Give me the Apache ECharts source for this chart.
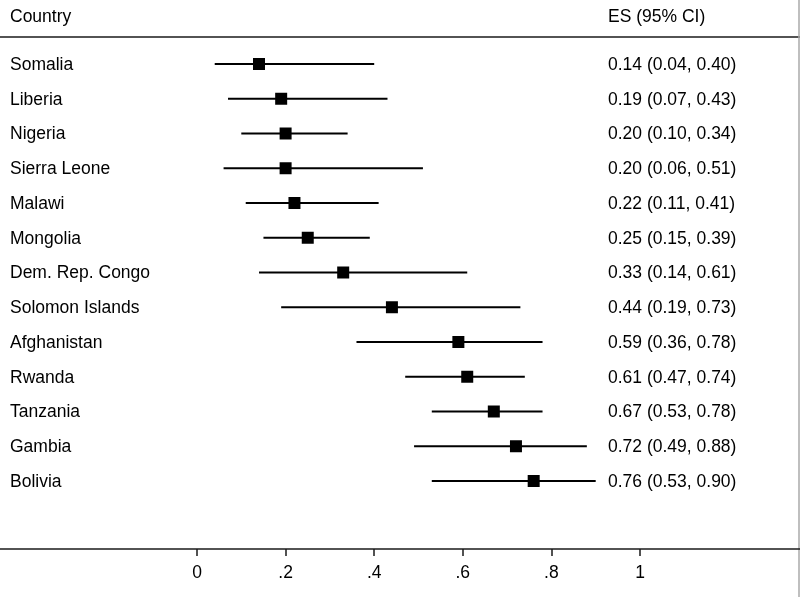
<!DOCTYPE html>
<html>
<head>
<meta charset="utf-8">
<script src="https://cdn.jsdelivr.net/npm/echarts@6/dist/echarts.min.js"></script>
<style>
html,body{margin:0;padding:0;background:#fff;}
#c{width:800px;height:597px;}
</style>
</head>
<body>
<div id="c"></div>
<script>
const countries = ["Somalia","Liberia","Nigeria","Sierra Leone","Malawi","Mongolia","Dem. Rep. Congo","Solomon Islands","Afghanistan","Rwanda","Tanzania","Gambia","Bolivia"];
const es = [0.14,0.19,0.20,0.20,0.22,0.25,0.33,0.44,0.59,0.61,0.67,0.72,0.76];
const lo = [0.04,0.07,0.10,0.06,0.11,0.15,0.14,0.19,0.36,0.47,0.53,0.49,0.53];
const hi = [0.40,0.43,0.34,0.51,0.41,0.39,0.61,0.73,0.78,0.74,0.78,0.88,0.90];
const ticks = [0,0.2,0.4,0.6,0.8,1];
const tickLabels = ["0",".2",".4",".6",".8","1"];
const headers = ["Country","ES (95% CI)"];

const FONT = '"Liberation Sans", Arial, Helvetica, sans-serif';
const FS = 17.5;
const W = 800, H = 597;
const X0 = 197, X1 = 640;            // pixel positions of 0 and 1
const unit = X1 - X0;
const xmin = -X0 / unit, xmax = (W - X0) / unit;
const rowTop = 64, rowStep = 34.75, axisY = 549;
const ymin = -rowTop / rowStep, ymax = (axisY - rowTop) / rowStep;
const ESX = 608, NAMEX = 10;

const fmt = v => v.toFixed(2);
const data = countries.map((c, i) => [i, lo[i], es[i], hi[i], c, fmt(es[i]) + ' (' + fmt(lo[i]) + ', ' + fmt(hi[i]) + ')']);

const chart = echarts.init(document.getElementById('c'), null, {renderer: 'canvas'});
chart.setOption({
  animation: false,
  backgroundColor: '#fff',
  grid: {left: 0, right: 0, top: 0, bottom: H - axisY},
  xAxis: {
    type: 'value', min: xmin, max: xmax,
    splitLine: {show: false},
    axisLine: {show: true, onZero: false, lineStyle: {color: '#1a1a1a', width: 1.5}},
    axisTick: {show: true, customValues: ticks, length: 7, lineStyle: {color: '#1a1a1a', width: 1.5}},
    axisLabel: {
      show: true, customValues: ticks, margin: 15,
      color: '#000', fontFamily: FONT, fontSize: FS,
      formatter: v => { const k = ticks.findIndex(t => Math.abs(t - v) < 1e-9); return k >= 0 ? tickLabels[k] : ''; }
    }
  },
  yAxis: {type: 'value', min: ymin, max: ymax, inverse: true, show: false},
  graphic: [
    {type: 'text', left: NAMEX, top: 18 - FS/2 - 1, style: {text: headers[0], font: FS + 'px ' + FONT, fill: '#000'}},
    {type: 'text', left: ESX, top: 18 - FS/2 - 1, style: {text: headers[1], font: FS + 'px ' + FONT, fill: '#000'}},
    {type: 'line', shape: {x1: 0, y1: 37, x2: W, y2: 37}, style: {stroke: '#1a1a1a', lineWidth: 1.5}},
    {type: 'line', shape: {x1: W - 1, y1: 0, x2: W - 1, y2: H}, style: {stroke: '#aaaaaa', lineWidth: 1.5}}
  ],
  series: [{
    type: 'custom',
    data: data,
    encode: {x: [1, 2, 3], y: 0},
    renderItem: function (params, api) {
      const i = api.value(0);
      const pLo = api.coord([api.value(1), i]);
      const pEs = api.coord([api.value(2), i]);
      const pHi = api.coord([api.value(3), i]);
      const s = 12;
      return {
        type: 'group',
        children: [
          {type: 'line', shape: {x1: pLo[0], y1: pLo[1], x2: pHi[0], y2: pHi[1]}, style: {stroke: '#000', lineWidth: 2}},
          {type: 'rect', shape: {x: pEs[0] - s/2, y: pEs[1] - s/2, width: s, height: s}, style: {fill: '#000'}},
          {type: 'text', x: NAMEX, y: pEs[1] + 1, style: {text: api.value(4), font: FS + 'px ' + FONT, fill: '#000', textVerticalAlign: 'middle', textAlign: 'left'}},
          {type: 'text', x: ESX, y: pEs[1] + 1, style: {text: api.value(5), font: FS + 'px ' + FONT, fill: '#000', textVerticalAlign: 'middle', textAlign: 'left'}}
        ]
      };
    }
  }]
});
</script>
</body>
</html>
